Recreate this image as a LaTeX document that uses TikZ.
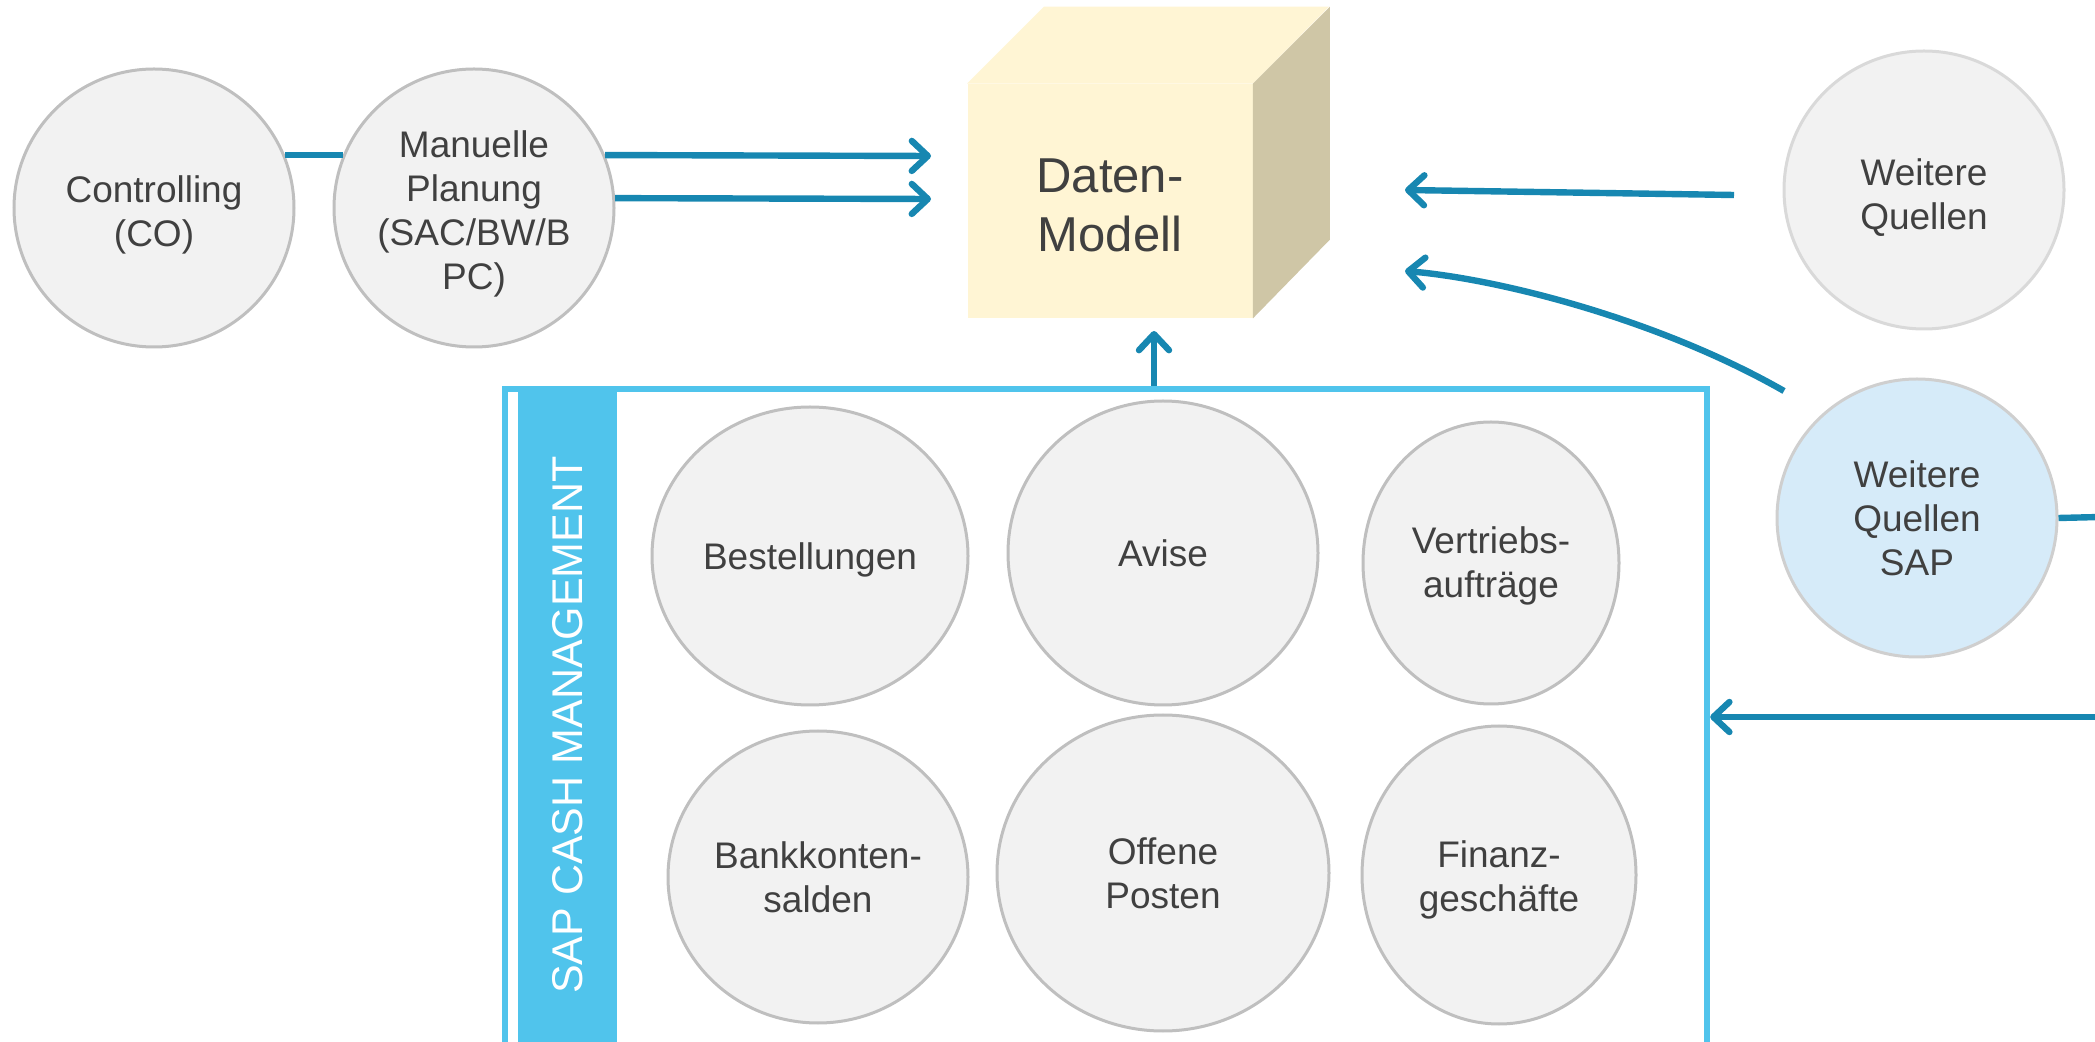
\documentclass[tikz,border=0pt]{standalone}
\usepackage{fontspec}
\setmainfont{Liberation Sans}
\usepackage{tikz}
\usetikzlibrary{arrows.meta,shapes.geometric}

\definecolor{circfill}{HTML}{F2F2F2}
\definecolor{circline}{HTML}{BFBFBF}
\definecolor{sapfill}{HTML}{D6EBF9}
\definecolor{cubefront}{HTML}{FFF5D4}
\definecolor{cubeside}{HTML}{CFC6A6}
\definecolor{arrblue}{HTML}{1787B1}
\definecolor{cmblue}{HTML}{50C4EC}
\definecolor{txtgray}{HTML}{404040}

% taller first line, pushes the text down a little
\newcommand{\padtop}[1]{\rule{0pt}{#1}}

\tikzset{
  src/.style={ellipse,draw=circline,line width=1.5pt,fill=circfill,
    text=txtgray,align=center,inner sep=0pt,
    font=\fontsize{18.5}{22}\selectfont},
  link/.style={arrblue,line width=3.2pt},
}

\begin{document}
\begin{tikzpicture}[x=0.5pt,y=-0.5pt]
\useasboundingbox (0,0) rectangle (2095,1042);
\begin{scope}[>={Straight Barb[round,length=8pt,width=15pt]}]
    % SAP cash management box
    \fill[cmblue] (518,391) rectangle (617,1060);
    \node[draw=cmblue,line width=3.2pt,inner sep=0pt,
      minimum width=601pt,minimum height=335pt] (cm) at (1106,724) {};
    \node[rotate=90,text=white,font=\fontsize{21.5}{25}\selectfont]
      (cmlabel) at (568,725) {SAP CASH MANAGEMENT};

    \node[src,minimum width=158pt,minimum height=149pt] (best) at (810,556) {\padtop{17.5pt}Bestellungen};
    \node[src,minimum width=155pt,minimum height=152pt] (avise) at (1163,553) {Avise};
    \node[src,minimum width=128pt,minimum height=141pt] (vertr) at (1491,563) {\padtop{16.5pt}Vertriebs-\\auftr\"age};
    \node[src,minimum width=150pt,minimum height=146pt] (bank) at (818,877) {Bankkonten-\\salden};
    \node[src,minimum width=166pt,minimum height=158pt] (offen) at (1163,873) {Offene\\Posten};
    \node[src,minimum width=137pt,minimum height=149pt] (finanz) at (1499,875) {\padtop{18.5pt}Finanz-\\gesch\"afte};

    % data model cube
    \node[fill=cubefront,inner sep=0pt,minimum width=142.5pt,minimum height=117pt,
      text=txtgray,align=center,font=\fontsize{24.5}{29.4}\selectfont]
      (cube) at (1110,201) {\padtop{21.5pt}Daten-\\Modell};
    \fill[cubefront] (cube.north west) -- ++(77,-77) -- ++(285,0) -- (cube.north east) -- cycle;
    \fill[cubeside] (cube.north east) -- ++(77,-77) -- ++(0,233) -- (cube.south east) -- cycle;

    % sources
    \node[src,minimum width=140pt,minimum height=139pt] (ctrl) at (154,208) {\padtop{20pt}Controlling\\(CO)};
    \node[src,minimum width=140pt,minimum height=139pt] (man) at (474,208) {\padtop{19pt}Manuelle\\Planung\\(SAC/BW/B\\PC)};
    \node[src,draw=circline!60,minimum width=140pt,minimum height=139pt] (wq) at (1924,190) {\padtop{21pt}Weitere\\Quellen};
    \node[src,draw=circline!75,fill=sapfill,minimum width=140pt,minimum height=139pt] (sap) at (1917,518) {Weitere\\Quellen\\SAP};

    \coordinate (inA) at (931,156);
    \coordinate (inB) at (931,199);
    \coordinate (inC) at (1405,190);
    \coordinate (inD) at (1405,271);
    \coordinate (wqout) at (1734,195);
    \coordinate (sapout) at (1784,391);
    \coordinate (cubein) at (1154,331);
    \coordinate (edgeA) at (2100,517);
    \coordinate (edgeB) at (2100,717);

    \draw[link] (ctrl.22) -- (man.158);
    \draw[link,->] (man.22) -- (inA);
    \draw[link,->] (man.4) -- (inB);
    \draw[link,->] (wqout) -- (inC);
    \draw[link,->] (sapout) .. controls (1660,320) and (1500,279) .. (inD);
    \draw[link,->] (cm.north -| cubein) -- (cubein);
    \draw[link] (sap.east) -- (edgeA);
    \draw[link,->] (edgeB) -- (edgeB -| cm.east);
\end{scope}
\end{tikzpicture}
\end{document}
